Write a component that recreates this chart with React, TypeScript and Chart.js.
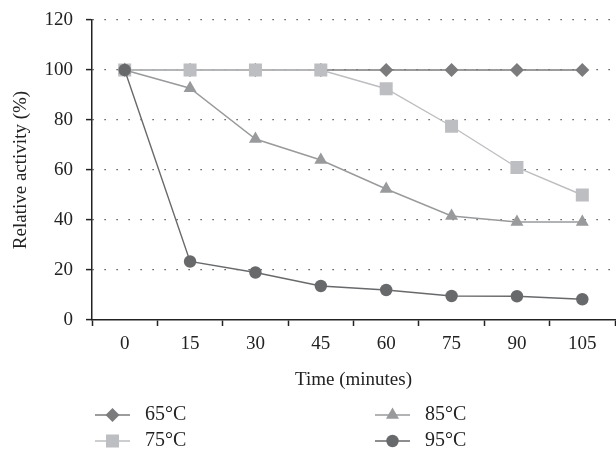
import React, { useEffect, useRef } from "react";
import { Chart, registerables } from "chart.js";

Chart.register(...registerables);

const categories = ["0", "15", "30", "45", "60", "75", "90", "105"];
const yTicks = [0, 20, 40, 60, 80, 100, 120];
const seriesNames = ["65°C", "75°C", "85°C", "95°C"];
const s65 = [100, 100, 100, 100, 100, 100, 100, 100];
const s75 = [100, 100, 100, 100, 92.5, 77.5, 61, 50];
const s85 = [100, 92.7, 72.4, 64, 52.4, 41.6, 39.2, 39.2];
const s95 = [100, 23.4, 19, 13.6, 12, 9.6, 9.5, 8.3];

const FONT = "'Liberation Serif', 'DejaVu Serif', serif";

function drawMarker(ctx: CanvasRenderingContext2D, style: string, x: number, y: number, r: number, color: string) {
  ctx.save();
  ctx.fillStyle = color;
  ctx.beginPath();
  if (style === "rectRot") {
    ctx.moveTo(x, y - r);
    ctx.lineTo(x + r, y);
    ctx.lineTo(x, y + r);
    ctx.lineTo(x - r, y);
    ctx.closePath();
  } else if (style === "rect") {
    const s = r * Math.SQRT1_2;
    ctx.rect(x - s, y - s, 2 * s, 2 * s);
  } else if (style === "triangle") {
    for (let k = 0; k < 3; k++) {
      const a = (k * 2 * Math.PI) / 3;
      const px = x + Math.sin(a) * r;
      const py = y - Math.cos(a) * r;
      if (k === 0) ctx.moveTo(px, py);
      else ctx.lineTo(px, py);
    }
    ctx.closePath();
  } else {
    ctx.arc(x, y, r, 0, Math.PI * 2);
  }
  ctx.fill();
  ctx.restore();
}

const legendPlugin = {
  id: "customLegend",
  afterDraw(chart: any) {
    const ctx = chart.ctx as CanvasRenderingContext2D;
    const ds = chart.data.datasets;
    const cols = [95, 375];
    const rows = [415, 441];
    ds.forEach((d: any, i: number) => {
      const col = Math.floor(i / 2);
      const row = i % 2;
      const x0 = cols[col];
      const y = rows[row];
      ctx.save();
      ctx.strokeStyle = d.borderColor;
      ctx.lineWidth = d.borderWidth;
      ctx.beginPath();
      ctx.moveTo(x0, y);
      ctx.lineTo(x0 + 35, y);
      ctx.stroke();
      drawMarker(ctx, d.pointStyle, x0 + 17.5, y, d.pointRadius, d.pointBackgroundColor);
      ctx.fillStyle = "#222";
      ctx.font = `20px ${FONT}`;
      ctx.textBaseline = "middle";
      ctx.textAlign = "left";
      ctx.fillText(d.label, x0 + 50, y);
      ctx.restore();
    });
  },
};

export default function App() {
  const ref = useRef<HTMLCanvasElement>(null);
  useEffect(() => {
    document.body.style.margin = "0";
    const styles = [
      { data: s65, color: "#7b7b7d", line: "#7b7b7d", ps: "rectRot", r: 7, order: 4 },
      { data: s75, color: "#bdbec1", line: "#bdbec1", ps: "rect", r: 9.2, order: 3 },
      { data: s85, color: "#999a9c", line: "#999a9c", ps: "triangle", r: 7.5, order: 2 },
      { data: s95, color: "#68696b", line: "#68696b", ps: "circle", r: 6.2, order: 1 },
    ];
    const chart = new Chart(ref.current!, {
      type: "line",
      data: {
        labels: categories,
        datasets: styles.map((s, i) => ({
          label: seriesNames[i],
          data: s.data,
          borderColor: s.line,
          backgroundColor: s.color,
          borderWidth: 1.4,
          pointStyle: s.ps as any,
          pointRadius: s.r,
          pointBackgroundColor: s.color,
          pointBorderColor: s.color,
          pointBorderWidth: 0,
          order: s.order,
          tension: 0,
          clip: false as any,
        })),
      },
      options: {
        animation: false,
        responsive: false,
        maintainAspectRatio: false,
        layout: { autoPadding: false, padding: { top: 20, right: 1, bottom: 55, left: 0 } },
        plugins: { legend: { display: false }, tooltip: { enabled: false } },
        scales: {
          x: {
            type: "category",
            offset: true,
            grid: {
              offset: true,
              drawOnChartArea: false,
              drawTicks: true,
              tickLength: 6,
              tickColor: "#222",
              tickWidth: 1.5,
            },
            border: { display: true, color: "#222", width: 1.5 },
            ticks: { color: "#222", font: { family: FONT, size: 19 }, padding: 7, maxRotation: 0 },
            title: {
              display: true,
              text: "Time (minutes)",
              color: "#222",
              font: { family: FONT, size: 19 },
              padding: { top: 0, bottom: 9 },
            },
            afterFit: (scale: any) => {
              scale.height = 80;
              scale.paddingLeft = 0;
              scale.paddingRight = 0;
            },
          },
          y: {
            min: 0,
            max: 120,
            afterBuildTicks: (scale: any) => {
              scale.ticks = yTicks.map((v) => ({ value: v }));
            },
            grid: {
              color: (c: any) => (c.tick && c.tick.value === 0 ? "rgba(0,0,0,0)" : "#333"),
              lineWidth: 1.2,
              drawTicks: true,
              tickLength: 6,
              tickColor: "#222",
              tickWidth: 1.5,
            },
            border: { display: true, color: "#222", width: 1.5, dash: [1.2, 10.8] },
            ticks: { color: "#222", font: { family: FONT, size: 19 }, padding: 13 },
            title: {
              display: true,
              text: "Relative activity (%)",
              color: "#222",
              font: { family: FONT, size: 19 },
              padding: { top: 10, bottom: 0 },
            },
            afterFit: (scale: any) => {
              scale.width = 92;
              scale.paddingTop = 0;
              scale.paddingBottom = 0;
            },
          },
        },
      },
      plugins: [legendPlugin],
    });
    return () => chart.destroy();
  }, []);
  return (
    <div style={{ width: 616, height: 455 }}>
      <canvas ref={ref} width={616} height={455} style={{ width: 616, height: 455, display: "block" }} />
    </div>
  );
}
